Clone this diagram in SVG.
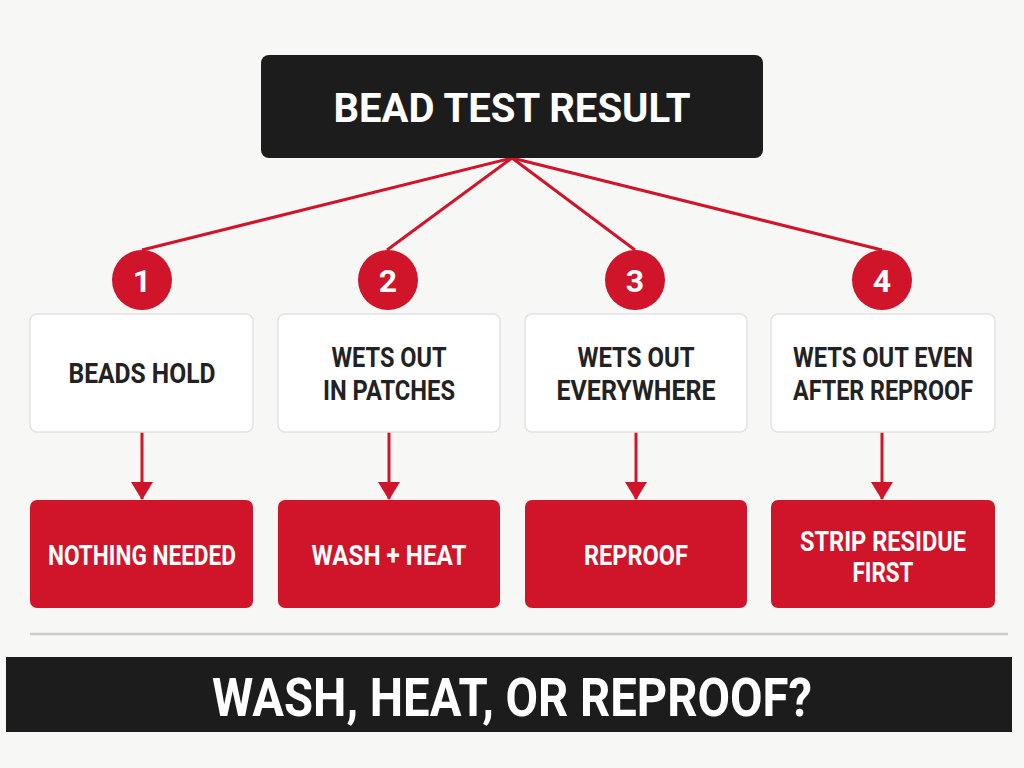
<svg xmlns="http://www.w3.org/2000/svg" width="1024" height="768" viewBox="0 0 1024 768">
<defs>
<style>
.bg{fill:#f7f7f5}
.dark{fill:#1c1c1c}
.q{fill:#ffffff;stroke:#e2e2e2;stroke-width:1.5}
.a{fill:#d0142a}
.c{fill:#d0142a}
.t{font-family:Roboto,"Liberation Sans",sans-serif;font-weight:700;text-anchor:middle}
.w{fill:#ffffff}
.k{fill:#222222}
.ln{stroke:#d0142a;stroke-width:3;fill:none}
</style>
<marker id="ah" viewBox="0 0 18 22" refX="17" refY="11" markerWidth="18" markerHeight="22" markerUnits="userSpaceOnUse" orient="auto">
<path d="M0,0 L18,11 L0,22 Z" fill="#d0142a"/>
</marker>
</defs>
<rect class="bg" x="0" y="0" width="1024" height="768"/>

<g id="connectors">
<line class="ln" x1="512" y1="158" x2="142" y2="250"/>
<line class="ln" x1="512" y1="158" x2="387" y2="250"/>
<line class="ln" x1="512" y1="158" x2="635" y2="250"/>
<line class="ln" x1="512" y1="158" x2="882" y2="250"/>
<line class="ln" x1="142" y1="432" x2="142" y2="499" marker-end="url(#ah)"/>
<line class="ln" x1="389" y1="432" x2="389" y2="499" marker-end="url(#ah)"/>
<line class="ln" x1="636" y1="432" x2="636" y2="499" marker-end="url(#ah)"/>
<line class="ln" x1="882" y1="432" x2="882" y2="499" marker-end="url(#ah)"/>
</g>

<g id="title">
<rect class="dark" x="261" y="55" width="502" height="103" rx="8"/>
<text class="t w" x="512" y="122" font-size="40" textLength="357" lengthAdjust="spacingAndGlyphs">BEAD TEST RESULT</text>
</g>

<g id="badge1"><circle class="c" cx="142" cy="280" r="30"/><text class="t w" x="142" y="292" font-size="32">1</text></g>
<g id="badge2"><circle class="c" cx="388" cy="280" r="30"/><text class="t w" x="388" y="292" font-size="32">2</text></g>
<g id="badge3"><circle class="c" cx="635" cy="280" r="30"/><text class="t w" x="635" y="292" font-size="32">3</text></g>
<g id="badge4"><circle class="c" cx="882" cy="280" r="30"/><text class="t w" x="882" y="292" font-size="32">4</text></g>

<g id="cond1">
<rect class="q" x="30" y="314" width="223" height="118" rx="7"/>
<text class="t k" x="142" y="383" font-size="27" textLength="147" lengthAdjust="spacingAndGlyphs">BEADS HOLD</text>
</g>
<g id="cond2">
<rect class="q" x="278" y="314" width="222" height="118" rx="7"/>
<text class="t k" x="389" y="367" font-size="27" textLength="115" lengthAdjust="spacingAndGlyphs">WETS OUT</text>
<text class="t k" x="389" y="400" font-size="27" textLength="132" lengthAdjust="spacingAndGlyphs">IN PATCHES</text>
</g>
<g id="cond3">
<rect class="q" x="525" y="314" width="222" height="118" rx="7"/>
<text class="t k" x="636" y="367" font-size="27" textLength="117" lengthAdjust="spacingAndGlyphs">WETS OUT</text>
<text class="t k" x="636" y="400" font-size="27" textLength="159" lengthAdjust="spacingAndGlyphs">EVERYWHERE</text>
</g>
<g id="cond4">
<rect class="q" x="771" y="314" width="224" height="118" rx="7"/>
<text class="t k" x="883" y="367" font-size="27" textLength="180" lengthAdjust="spacingAndGlyphs">WETS OUT EVEN</text>
<text class="t k" x="883" y="400" font-size="27" textLength="180" lengthAdjust="spacingAndGlyphs">AFTER REPROOF</text>
</g>

<g id="act1">
<rect class="a" x="30" y="500" width="223" height="108" rx="7"/>
<text class="t w" x="142" y="565" font-size="27" textLength="188" lengthAdjust="spacingAndGlyphs">NOTHING NEEDED</text>
</g>
<g id="act2">
<rect class="a" x="278" y="500" width="222" height="108" rx="7"/>
<text class="t w" x="389" y="565" font-size="27" textLength="155" lengthAdjust="spacingAndGlyphs">WASH + HEAT</text>
</g>
<g id="act3">
<rect class="a" x="525" y="500" width="222" height="108" rx="7"/>
<text class="t w" x="636" y="565" font-size="27" textLength="104" lengthAdjust="spacingAndGlyphs">REPROOF</text>
</g>
<g id="act4">
<rect class="a" x="771" y="500" width="224" height="108" rx="7"/>
<text class="t w" x="883" y="551" font-size="27" textLength="166" lengthAdjust="spacingAndGlyphs">STRIP RESIDUE</text>
<text class="t w" x="883" y="582" font-size="27" textLength="61" lengthAdjust="spacingAndGlyphs">FIRST</text>
</g>

<line x1="30" y1="634" x2="1008" y2="634" stroke="#cccccc" stroke-width="2.5"/>

<g id="banner">
<rect class="dark" x="6" y="657" width="1006" height="75"/>
<text class="t w" x="512" y="716" font-size="54" textLength="600" lengthAdjust="spacingAndGlyphs">WASH, HEAT, OR REPROOF?</text>
</g>
</svg>
